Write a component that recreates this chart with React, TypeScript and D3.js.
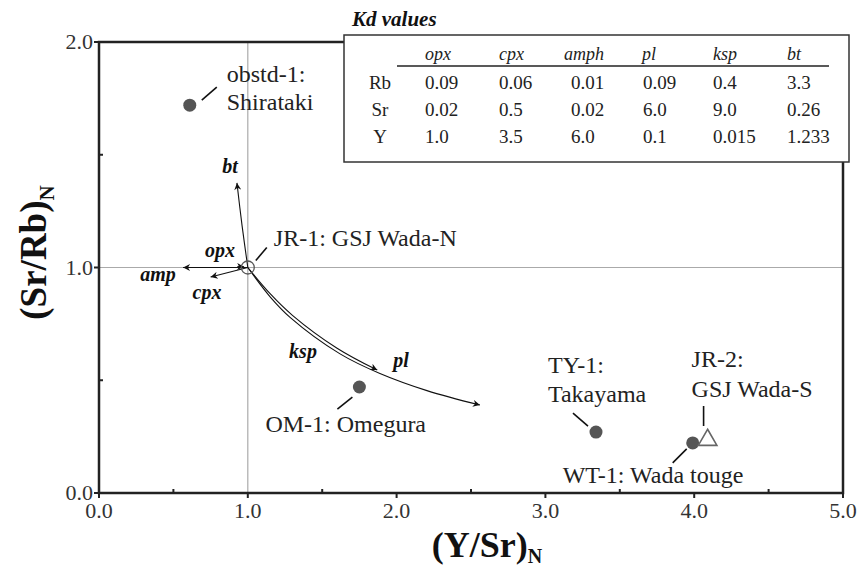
import React, { useEffect, useRef } from 'react';
import * as d3 from 'd3';

// samples plotted as (Y/Sr)N vs (Sr/Rb)N
const sampleNames = ['obstd-1', 'JR-1', 'OM-1', 'TY-1', 'WT-1', 'JR-2'];
const sampleLabels = [
  ['obstd-1:', 'Shirataki'],
  ['JR-1: GSJ Wada-N'],
  ['OM-1: Omegura'],
  ['TY-1:', 'Takayama'],
  ['WT-1: Wada touge'],
  ['JR-2:', 'GSJ Wada-S'],
];
const sampleX = [0.61, 1.0, 1.75, 3.34, 3.99, 4.09];
const sampleY = [1.72, 1.0, 0.47, 0.27, 0.222, 0.235];
const sampleShape = ['dot', 'ring', 'dot', 'dot', 'dot', 'triangle'];

// fractionation vectors, points read along each arrow
const vectorNames = ['bt', 'opx', 'amp', 'cpx', 'ksp', 'pl'];
const vectorPaths: [number, number][][] = [
  [[1.0, 1.0], [0.961, 1.188], [0.927, 1.375]],
  [[0.93, 1.004], [0.975, 1.003]],
  [[1.0, 1.0], [0.565, 1.0]],
  [[1.0, 1.0], [0.75, 0.958]],
  [[1.0, 1.0], [1.15, 0.884], [1.3, 0.788], [1.6, 0.642], [1.87, 0.545]],
  [[1.0, 1.0], [1.15, 0.87], [1.284, 0.779], [1.62, 0.617], [1.888, 0.53], [2.204, 0.454], [2.56, 0.39]],
];

// Kd table
const kdMinerals = ['opx', 'cpx', 'amph', 'pl', 'ksp', 'bt'];
const kdElements = ['Rb', 'Sr', 'Y'];
const kdRb = ['0.09', '0.06', '0.01', '0.09', '0.4', '3.3'];
const kdSr = ['0.02', '0.5', '0.02', '6.0', '9.0', '0.26'];
const kdY = ['1.0', '3.5', '6.0', '0.1', '0.015', '1.233'];

const xTicks = [0, 1, 2, 3, 4, 5];
const yTicks = [0, 1, 2];

// layout for annotations (pixel offsets from the point)
const labelOffsets = [
  { dx: 37, dy: [-23, 5], lead: [12, -5, 27, -18] },
  { dx: 26, dy: [-22], lead: [8, -7, 19, -20] },
  { dx: -94, dy: [45], lead: [-22, 22, -7, 10] },
  { dx: -48, dy: [-59, -30], lead: [-23, -19, -8, -6] },
  { dx: -130, dy: [40], lead: [-20, 20, -6, 6] },
  { dx: -16, dy: [-73, -43], lead: [-4, -34, -4, -14] },
];
const vectorLabelPos = [
  [230, 173], [220, 257], [158, 281], [207, 299], [303, 358], [401, 367],
];

const SERIF = '"Liberation Serif", "Times New Roman", serif';

const App = () => {
  const svgRef = useRef(null);

  useEffect(() => {
    const svg = d3.select(svgRef.current);
    svg.selectAll('*').remove();

    const x = d3.scaleLinear().domain([0, 5]).range([99, 843]);
    const y = d3.scaleLinear().domain([0, 2]).range([493, 42]);

    const defs = svg.append('defs');
    defs
      .append('marker')
      .attr('id', 'arr')
      .attr('viewBox', '0 0 10 10')
      .attr('refX', 10)
      .attr('refY', 5)
      .attr('markerWidth', 10)
      .attr('markerHeight', 7)
      .attr('markerUnits', 'userSpaceOnUse')
      .attr('orient', 'auto')
      .append('path')
      .attr('d', 'M0,0 L10,5 L0,10 L3,5 Z')
      .attr('fill', '#111');

    // guide lines at 1.0
    svg
      .append('line')
      .attr('x1', x(1)).attr('x2', x(1))
      .attr('y1', y(0)).attr('y2', y(2))
      .attr('stroke', '#aaa').attr('stroke-width', 1.2);
    svg
      .append('line')
      .attr('x1', x(0)).attr('x2', x(5))
      .attr('y1', y(1)).attr('y2', y(1))
      .attr('stroke', '#aaa').attr('stroke-width', 1.2);

    // frame
    svg
      .append('rect')
      .attr('x', x(0)).attr('y', y(2))
      .attr('width', x(5) - x(0)).attr('height', y(0) - y(2))
      .attr('fill', 'none').attr('stroke', '#222').attr('stroke-width', 2.5);

    // ticks
    const tickColor = '#222';
    xTicks.forEach((t) => {
      svg.append('line')
        .attr('x1', x(t)).attr('x2', x(t))
        .attr('y1', y(0)).attr('y2', y(0) + 5)
        .attr('stroke', tickColor).attr('stroke-width', 2);
      svg.append('text')
        .attr('x', x(t)).attr('y', y(0) + 25)
        .attr('text-anchor', 'middle')
        .attr('font-family', SERIF).attr('font-size', 22).attr('fill', '#333')
        .text(t.toFixed(1));
      if (t < 5) {
        svg.append('line')
          .attr('x1', x(t + 0.5)).attr('x2', x(t + 0.5))
          .attr('y1', y(0)).attr('y2', y(0) - 4)
          .attr('stroke', tickColor).attr('stroke-width', 2);
      }
    });
    yTicks.forEach((t) => {
      svg.append('line')
        .attr('x1', x(0) - 5).attr('x2', x(0))
        .attr('y1', y(t)).attr('y2', y(t))
        .attr('stroke', tickColor).attr('stroke-width', 2);
      svg.append('text')
        .attr('x', x(0) - 6).attr('y', y(t) + 7)
        .attr('text-anchor', 'end')
        .attr('font-family', SERIF).attr('font-size', 22).attr('fill', '#333')
        .text(t.toFixed(1));
      if (t < 2) {
        svg.append('line')
          .attr('x1', x(0)).attr('x2', x(0) + 4)
          .attr('y1', y(t + 0.5)).attr('y2', y(t + 0.5))
          .attr('stroke', tickColor).attr('stroke-width', 2);
      }
    });

    // axis titles
    const xt = svg.append('text')
      .attr('x', 487).attr('y', 557)
      .attr('text-anchor', 'middle')
      .attr('font-family', SERIF).attr('font-weight', 'bold').attr('font-size', 36)
      .attr('fill', '#111');
    xt.append('tspan').text('(Y/Sr)');
    xt.append('tspan').attr('font-size', 20).attr('dy', 6).text('N');

    const yt = svg.append('text')
      .attr('transform', `translate(46,${y(1) - 15}) rotate(-90)`)
      .attr('text-anchor', 'middle')
      .attr('font-family', SERIF).attr('font-weight', 'bold').attr('font-size', 37)
      .attr('fill', '#111');
    yt.append('tspan').text('(Sr/Rb)');
    yt.append('tspan').attr('font-size', 21).attr('dy', 8).text('N');

    // vectors
    const line = d3.line<[number, number]>()
      .x((d) => x(d[0]))
      .y((d) => y(d[1]))
      .curve(d3.curveCatmullRom);
    vectorPaths.forEach((p) => {
      svg.append('path')
        .attr('d', line(p))
        .attr('fill', 'none')
        .attr('stroke', '#111')
        .attr('stroke-width', 1.1)
        .attr('marker-end', 'url(#arr)');
    });
    vectorNames.forEach((n, i) => {
      svg.append('text')
        .attr('x', vectorLabelPos[i][0]).attr('y', vectorLabelPos[i][1])
        .attr('text-anchor', 'middle')
        .attr('font-family', SERIF).attr('font-weight', 'bold').attr('font-style', 'italic')
        .attr('font-size', 20).attr('fill', '#111')
        .text(n);
    });

    // samples
    sampleNames.forEach((n, i) => {
      const cx = x(sampleX[i]);
      const cy = y(sampleY[i]);
      if (sampleShape[i] === 'dot') {
        svg.append('circle').attr('cx', cx).attr('cy', cy).attr('r', 6.5).attr('fill', '#555');
      } else if (sampleShape[i] === 'ring') {
        svg.append('circle').attr('cx', cx).attr('cy', cy).attr('r', 6.5)
          .attr('fill', 'none').attr('stroke', '#555').attr('stroke-width', 1.3);
      } else {
        svg.append('path')
          .attr('d', d3.symbol(d3.symbolTriangle, 150)())
          .attr('transform', `translate(${cx},${cy})`)
          .attr('fill', 'white').attr('stroke', '#666').attr('stroke-width', 1.6);
      }
      const o = labelOffsets[i];
      svg.append('line')
        .attr('x1', cx + o.lead[0]).attr('y1', cy + o.lead[1])
        .attr('x2', cx + o.lead[2]).attr('y2', cy + o.lead[3])
        .attr('stroke', '#111').attr('stroke-width', 1.6);
      sampleLabels[i].forEach((s, k) => {
        svg.append('text')
          .attr('x', cx + o.dx).attr('y', cy + o.dy[k])
          .attr('font-family', SERIF).attr('font-size', 24).attr('fill', '#222')
          .text(s);
      });
    });

    // Kd table
    const tb = svg.append('g');
    tb.append('rect')
      .attr('x', 344).attr('y', 35).attr('width', 505).attr('height', 127)
      .attr('fill', 'white').attr('stroke', '#333').attr('stroke-width', 1.5);
    tb.append('text')
      .attr('x', 352).attr('y', 26)
      .attr('font-family', SERIF).attr('font-weight', 'bold').attr('font-style', 'italic')
      .attr('font-size', 21).attr('fill', '#111')
      .text('Kd values');
    const colX = [425, 499, 564, 642, 713, 787];
    const valX = [425, 499, 571, 643, 713, 787];
    kdMinerals.forEach((m, j) => {
      tb.append('text')
        .attr('x', colX[j]).attr('y', 60)
        .attr('font-family', SERIF).attr('font-style', 'italic')
        .attr('font-size', 18).attr('fill', '#222')
        .text(m);
    });
    tb.append('line')
      .attr('x1', 397).attr('x2', 829).attr('y1', 66).attr('y2', 66)
      .attr('stroke', '#222').attr('stroke-width', 1.3);
    const rows = [kdRb, kdSr, kdY];
    kdElements.forEach((el, r) => {
      const by = 89 + r * 27;
      tb.append('text')
        .attr('x', 380).attr('y', by)
        .attr('text-anchor', 'middle')
        .attr('font-family', SERIF).attr('font-size', 19).attr('fill', '#222')
        .text(el);
      rows[r].forEach((v, j) => {
        tb.append('text')
          .attr('x', valX[j]).attr('y', by)
          .attr('font-family', SERIF).attr('font-size', 19).attr('fill', '#222')
          .text(v);
      });
    });
  }, []);

  return (
    <svg
      ref={svgRef}
      width={861}
      height={572}
      style={{ position: 'absolute', left: 0, top: 0, background: 'white' }}
    />
  );
};

export default App;
